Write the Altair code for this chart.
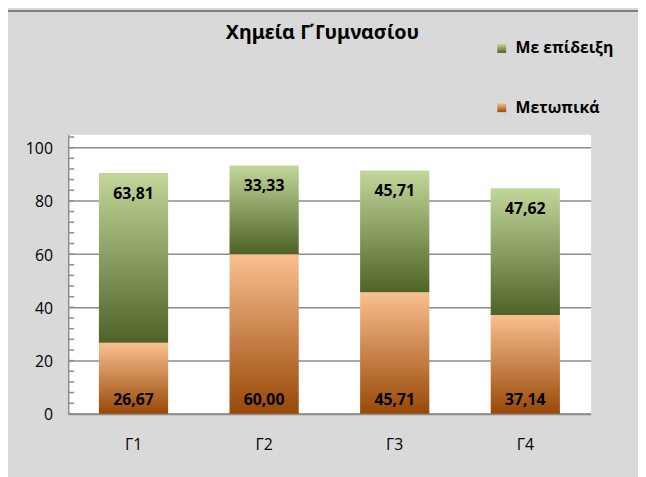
import altair as alt
import pandas as pd

categories = ["Γ1", "Γ2", "Γ3", "Γ4"]
series_names = ["Με επίδειξη", "Μετωπικά"]
metopika = [26.67, 60.00, 45.71, 37.14]
me_epideixi = [63.81, 33.33, 45.71, 47.62]
y_ticks = [0, 20, 40, 60, 80, 100]
minor_ticks = list(range(0, 105, 4))

rows = []
for c, a, b in zip(categories, metopika, me_epideixi):
    rows.append({"cat": c, "series": "Μετωπικά", "value": a, "ord": 0})
    rows.append({"cat": c, "series": "Με επίδειξη", "value": b, "ord": 1})
df = pd.DataFrame(rows)

FONT = "Open Sans"
W, H = 529, 283
AX = "#8c8c8c"

green = ("{gradient: 'linear', x1: 0, y1: 0, x2: 0, y2: 1, stops: ["
         "{offset: 0, color: '#c4d79b'}, {offset: 1, color: '#4f6228'}]}")
orange = ("{gradient: 'linear', x1: 0, y1: 0, x2: 0, y2: 1, stops: ["
          "{offset: 0, color: '#fac090'}, {offset: 1, color: '#984807'}]}")

yscale = alt.Scale(domain=[0, 105], nice=False, zero=True)
xscale = alt.Scale(paddingInner=0.47, paddingOuter=0.235)

xenc = alt.X("cat:N", scale=xscale, sort=categories,
             axis=alt.Axis(title=None, labelAngle=0, ticks=False, domainColor=AX,
                           domainWidth=2, labelPadding=23, labelFontSize=16,
                           labelFont=FONT, labelColor="#000000"))

base = alt.Chart(df)

bars = base.mark_bar().encode(
    x=xenc,
    y=alt.Y("value:Q", stack="zero", scale=yscale,
            axis=alt.Axis(title=None, values=y_ticks, ticks=False, grid=True,
                          gridColor=AX, gridWidth=1.5, domainColor=AX,
                          domainWidth=1.5, labelPadding=16, labelFontSize=16,
                          labelFont=FONT, labelColor="#000000", labelOffset=1)),
    color=alt.Color("series:N",
                    scale=alt.Scale(domain=series_names,
                                    range=[alt.ExprRef(green), alt.ExprRef(orange)]),
                    legend=alt.Legend(title=None, orient="none", legendX=431, legendY=-95,
                                      direction="vertical", symbolType="square",
                                      symbolSize=81, symbolStrokeWidth=0,
                                      labelFont=FONT, labelFontSize=16,
                                      labelFontWeight="bold", labelColor="#000000",
                                      labelOffset=6, rowPadding=44)),
    order=alt.Order("ord:Q"),
)

fmt = "replace(format(datum.value, '.2f'), '.', ',')"

bottom_labels = base.transform_filter(
    alt.datum.series == "Μετωπικά"
).transform_calculate(lab=fmt).mark_text(
    dy=-14, font=FONT, fontSize=16, fontWeight="bold", color="#000000", baseline="middle"
).encode(x=xenc, y=alt.datum(0), text="lab:N")

top_labels = base.transform_joinaggregate(
    total="sum(value)", groupby=["cat"]
).transform_filter(
    alt.datum.series == "Με επίδειξη"
).transform_calculate(lab=fmt).mark_text(
    dy=21, font=FONT, fontSize=16, fontWeight="bold", color="#000000", baseline="middle"
).encode(x=xenc, y=alt.Y("total:Q", scale=yscale), text="lab:N")

minor = alt.Chart(pd.DataFrame({"t": minor_ticks})).mark_rule(
    color=AX, strokeWidth=1.5
).encode(y=alt.Y("t:Q", scale=yscale), x=alt.value(0), x2=alt.value(6))

border = alt.Chart(pd.DataFrame({"a": [0]})).mark_rule(
    color="#808080", strokeWidth=2
).encode(y=alt.value(-125), x=alt.value(-61), x2=alt.value(577))

chart = alt.layer(bars, minor, bottom_labels, top_labels, border).properties(
    width=W, height=H,
    autosize=alt.AutoSizeParams(type="none"),
    padding={"left": 61, "top": 125, "right": 48, "bottom": 61},
    background="#d9d9d9",
    title=alt.TitleParams("Χημεία Γ΄Γυμνασίου", font="Noto Sans", fontSize=20,
                          fontWeight="bold", color="#000000", anchor="middle",
                          frame="group", baseline="alphabetic", offset=0,
                          dx=-7, dy=49),
).configure_view(fill="#ffffff", stroke="transparent")

chart.save("out.html", embed_options={"renderer": "svg", "actions": False})
